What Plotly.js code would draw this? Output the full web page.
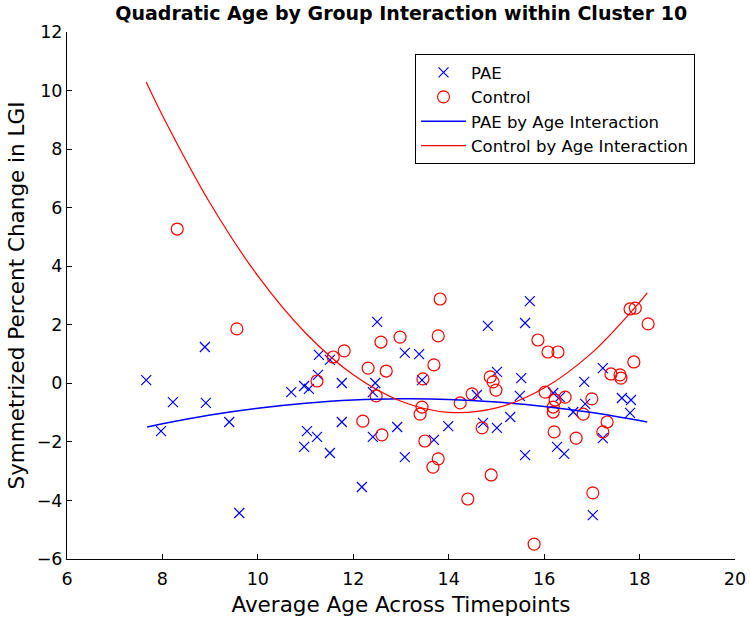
<!DOCTYPE html>
<html>
<head>
<meta charset="utf-8">
<script src="https://cdn.plot.ly/plotly-3.0.1.min.js"></script>
<style>html,body{margin:0;padding:0;background:#fff;}#chart{width:750px;height:626px;}</style>
</head>
<body>
<div id="chart"></div>
<script>
// PAE (blue x markers)
const paeAge = [7.66,7.97,8.22,8.89,8.91,9.40,9.61,10.70,10.97,11.07,11.03,10.97,11.28,11.51,11.26,11.76,12.50,12.46,12.41,13.08,13.38,13.44,14.82,14.59,15.01,11.76,11.24,11.51,12.41,12.92,13.08,13.69,13.99,14.72,15.01,15.29,12.18,15.70,15.60,15.52,15.49,16.19,16.33,16.84,17.23,17.63,17.82,17.80,16.86,16.61,15.60,16.27,16.42,17.23,17.02];
const paeChange = [0.11,-1.63,-0.64,1.24,-0.67,-1.32,-4.43,-0.30,-0.09,-0.19,-1.63,-2.17,0.97,0.80,0.29,0.01,2.10,0.01,-0.30,1.04,1.00,0.11,1.96,-0.40,0.39,-1.32,-1.83,-2.38,-1.83,-1.49,-2.52,-1.93,-1.46,-1.35,-1.52,-1.15,-3.54,2.81,2.06,0.18,-0.43,-0.33,-0.47,0.05,0.52,-0.50,-0.57,-1.01,-0.70,-0.98,-2.45,-2.17,-2.41,-1.87,-4.50];
// Control (red circles)
const ctlAge = [8.31,9.56,11.58,11.81,11.24,12.31,12.58,12.98,12.69,13.82,13.78,13.69,13.46,12.48,13.44,13.40,14.24,14.49,14.87,14.93,14.99,12.20,12.60,13.50,13.78,13.67,14.70,14.89,14.40,15.87,16.08,16.29,16.02,16.44,16.23,16.19,16.19,17.00,16.82,17.40,17.59,17.61,17.88,17.80,17.91,18.18,17.32,17.23,16.21,16.67,17.02,15.79];
const ctlChange = [5.27,1.86,0.90,1.11,0.08,0.52,1.41,1.58,0.42,2.88,1.62,0.63,0.15,-0.43,-0.81,-1.05,-0.67,-0.36,0.22,0.05,-0.23,-1.29,-1.76,-1.97,-2.58,-2.86,-1.52,-3.13,-3.95,1.48,1.07,1.07,-0.30,-0.47,-0.57,-0.81,-0.98,-0.53,-1.05,0.32,0.29,0.18,0.73,2.54,2.57,2.03,-1.32,-1.66,-1.66,-1.87,-3.74,-5.49];
// Fitted curves
const paeCurveAge = [7.68,8,9,10,11,12,13,14,15,16,17,18.16];
const paeCurveVal = [-1.49,-1.38,-1.08,-0.85,-0.68,-0.57,-0.53,-0.55,-0.64,-0.79,-1.00,-1.32];
const ctlCurveAge = [7.66,8,9,10,11,12,13,14,15,16,17,18,18.16];
const ctlCurveVal = [10.29,9.15,6.15,3.67,1.72,0.29,-0.61,-0.99,-0.84,-0.16,1.04,2.77,3.09];

const BLUE = '#0000ff', RED = '#ff0000';
const FONT = 'DejaVu Sans, sans-serif';

const traces = [
  {x: paeAge, y: paeChange, type: 'scatter', mode: 'markers', name: 'PAE',
   marker: {symbol: 'x-thin-open', size: 10, color: BLUE, line: {color: BLUE, width: 1.2}}},
  {x: ctlAge, y: ctlChange, type: 'scatter', mode: 'markers', name: 'Control',
   marker: {symbol: 'circle-open', size: 12, color: RED, line: {color: RED, width: 1.2}}},
  {x: paeCurveAge, y: paeCurveVal, type: 'scatter', mode: 'lines', name: 'PAE by Age Interaction',
   line: {color: BLUE, width: 1.5, shape: 'spline'}},
  {x: ctlCurveAge, y: ctlCurveVal, type: 'scatter', mode: 'lines', name: 'Control by Age Interaction',
   line: {color: RED, width: 1.2, shape: 'spline'}}
];

const axisCommon = {
  showline: true, linecolor: '#000', linewidth: 1, mirror: false,
  ticks: 'inside', ticklen: 5, tickcolor: '#000', tickwidth: 1,
  showgrid: false, zeroline: false, dtick: 2,
  tickfont: {family: FONT, size: 17.5, color: '#000'}
};

const layout = {
  width: 750, height: 626,
  margin: {l: 67, r: 15, t: 32, b: 67},
  paper_bgcolor: '#fff', plot_bgcolor: '#fff',
  font: {family: FONT, color: '#000'},
  title: {text: '<b>Quadratic Age by Group Interaction within Cluster 10</b>',
          font: {family: FONT, size: 19, color: '#000'}, x: 0.535, xanchor: 'center', y: 0.978, yanchor: 'middle'},
  xaxis: Object.assign({}, axisCommon, {range: [6, 20], ticklabelstandoff: 4,
          title: {text: 'Average Age Across Timepoints', font: {family: FONT, size: 21.5, color: '#000'}, standoff: 8}}),
  yaxis: Object.assign({}, axisCommon, {range: [-6, 12],
          title: {text: 'Symmetrized Percent Change in LGI', font: {family: FONT, size: 21.5, color: '#000'}, standoff: 6}}),
  legend: {x: 0.521, y: 0.958, xanchor: 'left', yanchor: 'top', itemwidth: 45,
           bgcolor: '#fff', bordercolor: '#000', borderwidth: 1,
           font: {family: FONT, size: 16.5, color: '#000'}},
  showlegend: true
};

Plotly.newPlot('chart', traces, layout, {displayModeBar: false, staticPlot: true});
</script>
</body>
</html>
